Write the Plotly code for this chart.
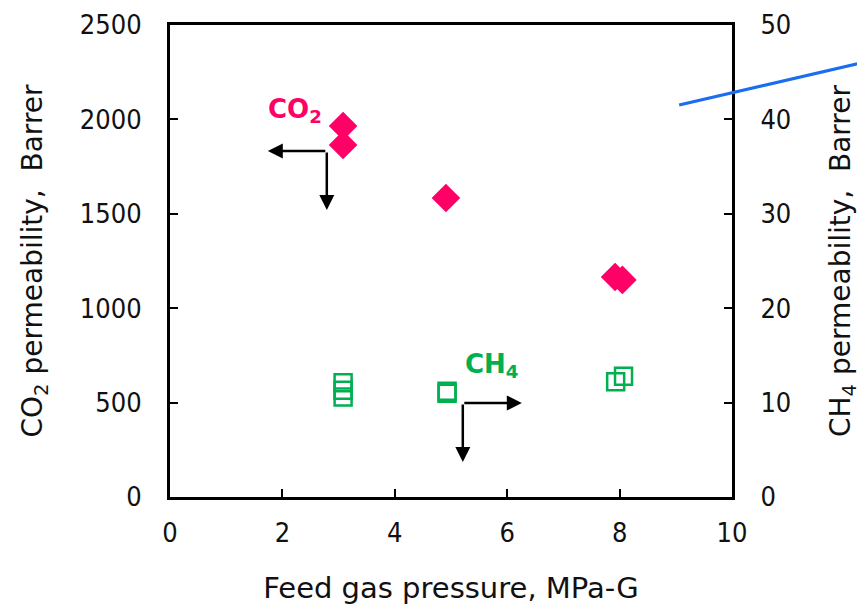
import plotly.graph_objects as go

# CO2 permeability (left axis, Barrer)
co2_x = [3.08, 3.08, 4.91, 7.92, 8.05]
co2_y = [1965, 1865, 1584, 1165, 1150]

# CH4 permeability (right axis, Barrer)
ch4_x = [3.08, 3.08, 3.08, 4.93, 4.93, 7.93, 8.07]
ch4_y = [12.1, 11.3, 10.6, 11.0, 11.2, 12.2, 12.8]

x_ticks = [0, 2, 4, 6, 8, 10]
y1_ticks = [0, 500, 1000, 1500, 2000, 2500]
y2_ticks = [0, 10, 20, 30, 40, 50]

PINK = "#FF0066"
GREEN = "#00B050"
FONT = "DejaVu Sans Condensed, Liberation Sans, DejaVu Sans"
TFONT = "DejaVu Sans"

fig = go.Figure()
fig.add_trace(go.Scatter(x=co2_x, y=co2_y, mode="markers", yaxis="y",
                         marker=dict(symbol="diamond", size=22, color=PINK, line=dict(width=0)),
                         showlegend=False))
fig.add_trace(go.Scatter(x=ch4_x, y=ch4_y, mode="markers", yaxis="y2",
                         marker=dict(symbol="square-open", size=17, color=GREEN, line=dict(width=2.5, color=GREEN)),
                         showlegend=False))

axis_common = dict(showline=True, linecolor="black", linewidth=3, ticks="inside",
                   ticklen=8, tickwidth=1.5, tickcolor="black", showgrid=False, zeroline=False,
                   tickfont=dict(family=FONT, size=27, color="#111"))

fig.update_layout(
    width=857, height=600,
    margin=dict(l=162, r=133, t=17, b=111, autoexpand=False),
    paper_bgcolor="white", plot_bgcolor="white",
    font=dict(family=FONT, color="#111"),
    xaxis=dict(range=[0, 10], tickvals=x_ticks, mirror=True, ticklabelstandoff=10,
               title=dict(text="Feed gas pressure, MPa-G", font=dict(family=TFONT, size=29), standoff=31),
               **axis_common),
    yaxis=dict(range=[0, 2500], tickvals=y1_ticks, ticklabelstandoff=20,
               title=dict(text="CO<sub>2</sub> permeability,  Barrer", font=dict(family=TFONT, size=28), standoff=29),
               **axis_common),
    yaxis2=dict(range=[0, 50], tickvals=y2_ticks, overlaying="y", side="right", ticklabelstandoff=20,
                title=dict(text="CH<sub>4</sub> permeability,  Barrer", font=dict(family=TFONT, size=28), standoff=41),
                **axis_common),
)

# decorative callout line (paper coordinates)
fig.add_shape(type="line", xref="paper", yref="paper", x0=0.906, y0=0.8305, x1=1.2367, y1=0.9216,
              line=dict(color="#1A6CF0", width=3))

# labels
fig.add_annotation(x=2.22, y=2045, xref="x", yref="y", text="<b>CO<sub>2</sub></b>", showarrow=False,
                   font=dict(family=TFONT, size=26, color=PINK))
fig.add_annotation(x=5.73, y=695, xref="x", yref="y", text="<b>CH<sub>4</sub></b>", showarrow=False,
                   font=dict(family=TFONT, size=26, color=GREEN))

def arrow(x_tail, y_tail, x_head, y_head):
    fig.add_annotation(x=x_head, y=y_head, ax=x_tail, ay=y_tail, xref="x", yref="y",
                       axref="x", ayref="y", showarrow=True, arrowhead=2, arrowsize=1.2,
                       arrowwidth=2.5, arrowcolor="black", text="", standoff=0, startstandoff=0)

# CO2 -> left axis
arrow(2.79, 1833, 1.74, 1833)
arrow(2.79, 1833, 2.79, 1520)
# CH4 -> right axis
arrow(5.21, 498, 6.26, 498)
arrow(5.21, 498, 5.21, 185)

fig.write_html("out.html")
